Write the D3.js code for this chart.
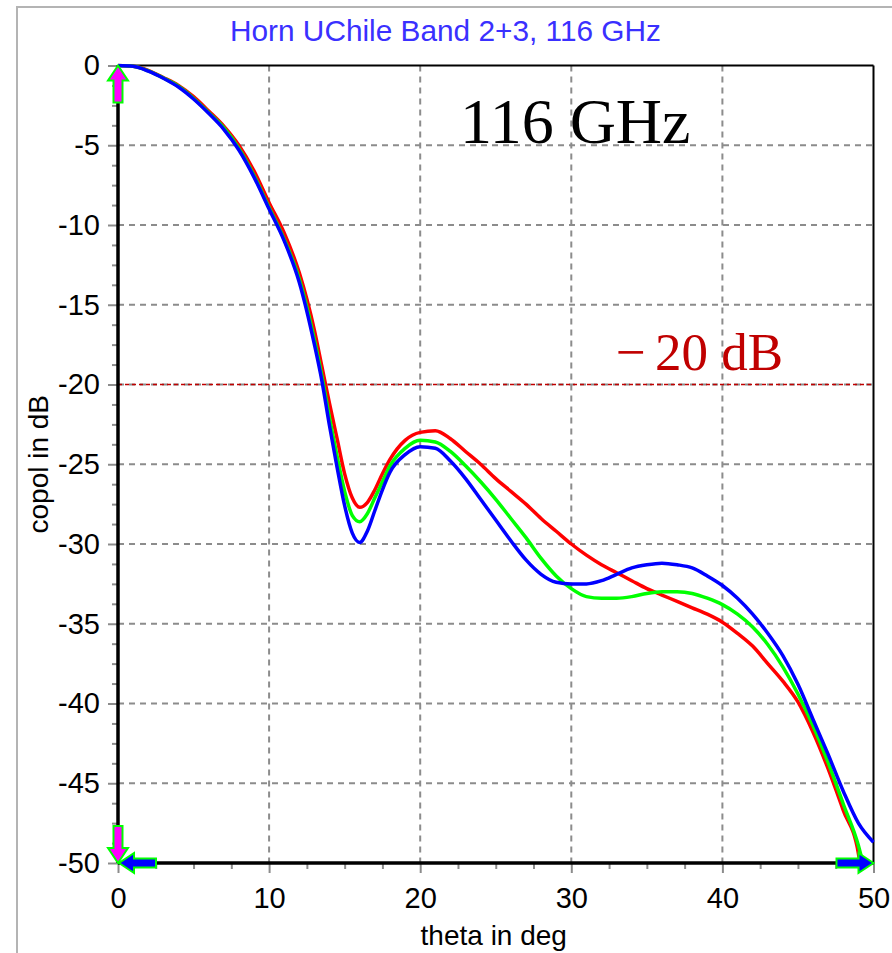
<!DOCTYPE html>
<html>
<head>
<meta charset="utf-8">
<script src="https://cdn.jsdelivr.net/npm/d3@7"></script>
<style>
  body { margin: 0; background: #fff; }
  svg text { font-family: "Liberation Sans", Arial, sans-serif; }
</style>
</head>
<body>
<div id="chart"></div>
<script>
// ── Data ──────────────────────────────────────────────────────────
const thetaRed   = [0,1,2,3,4,5,6,7,8,9,10,11,12,13,13.5,14,14.5,15,15.5,16,16.5,17,17.5,18,19,20,21,22,23,24,25,26,27,28,29,30,31,32,33,34,35,36,37,38,39,40,41,42,43,44,45,46,47,48,49,49.1];
const copolRed   = [0,-0.05,-0.3,-0.75,-1.25,-1.95,-2.85,-3.8,-5.0,-6.6,-8.6,-10.5,-13.0,-16.6,-18.9,-21.2,-23.4,-25.6,-27.1,-27.7,-27.4,-26.6,-25.6,-24.7,-23.5,-23.0,-22.9,-23.4,-24.2,-25.0,-25.9,-26.7,-27.5,-28.4,-29.2,-30.0,-30.7,-31.3,-31.8,-32.3,-32.8,-33.2,-33.6,-34.0,-34.4,-34.9,-35.6,-36.4,-37.5,-38.6,-39.9,-41.8,-44.1,-46.7,-49.4,-50];

const thetaGreen = [0,1,2,3,4,5,6,7,8,9,10,11,12,13,13.5,14,14.5,15,15.5,16,16.5,17,17.5,18,19,20,21,22,23,24,25,26,27,28,29,30,31,32,33,34,35,36,37,38,39,40,41,42,43,44,45,46,47,48,49,49.3];
const copolGreen = [0,-0.05,-0.33,-0.78,-1.3,-2.05,-2.95,-3.9,-5.2,-6.9,-8.9,-10.9,-13.4,-17.2,-19.5,-22.1,-24.5,-26.7,-28.2,-28.6,-28.1,-27.1,-26.1,-25.1,-24.0,-23.5,-23.6,-24.2,-25.1,-26.1,-27.2,-28.4,-29.6,-30.9,-32.0,-32.8,-33.3,-33.4,-33.4,-33.3,-33.1,-33.0,-33.0,-33.1,-33.4,-33.8,-34.4,-35.2,-36.3,-37.7,-39.4,-41.4,-43.7,-46.3,-48.9,-50];

const thetaBlue  = [0,1,2,3,4,5,6,7,8,9,10,11,12,13,13.5,14,14.5,15,15.5,16,16.5,17,17.5,18,19,20,21,22,23,24,25,26,27,28,29,30,31,32,33,34,35,36,37,38,39,40,41,42,43,44,45,46,47,48,49,50];
const copolBlue  = [0,-0.05,-0.35,-0.8,-1.35,-2.1,-3.0,-4.0,-5.3,-7.0,-9.0,-11.0,-13.6,-17.5,-19.8,-22.6,-25.2,-27.6,-29.3,-29.9,-29.2,-27.9,-26.6,-25.5,-24.4,-23.9,-24.0,-24.8,-25.9,-27.2,-28.5,-29.8,-31.0,-31.9,-32.4,-32.5,-32.5,-32.3,-31.9,-31.5,-31.3,-31.2,-31.3,-31.5,-32.0,-32.6,-33.4,-34.4,-35.6,-37.0,-38.8,-41.0,-43.2,-45.5,-47.5,-48.7];

const xTicks = [0, 10, 20, 30, 40, 50];
const yTicks = [0, -5, -10, -15, -20, -25, -30, -35, -40, -45, -50];
const refLevel = -20;

const series = [
  { name: "red",   theta: thetaRed,   copol: copolRed,   color: "#ff0000" },
  { name: "green", theta: thetaGreen, copol: copolGreen, color: "#00ff00" },
  { name: "blue",  theta: thetaBlue,  copol: copolBlue,  color: "#0000ff" }
];

// ── Layout ────────────────────────────────────────────────────────
const W = 892, H = 953;
const pLeft = 118, pRight = 873.5, pTop = 65.5, pBottom = 863;

const svg = d3.select("#chart").append("svg")
  .attr("width", W).attr("height", H);

// outer frame of the window
svg.append("rect")
  .attr("x", 17).attr("y", 7).attr("width", 900).attr("height", 1000)
  .attr("fill", "#fff").attr("stroke", "#b4b4b4").attr("stroke-width", 2);

const x = d3.scaleLinear().domain([0, 50]).range([pLeft, pRight]);
const y = d3.scaleLinear().domain([0, -50]).range([pTop, pBottom]);

// title
svg.append("text")
  .attr("x", 230).attr("y", 41)
  .attr("fill", "#3a30ff")
  .style("font-size", "29.8px")
  .text("Horn UChile Band 2+3, 116 GHz");

// ── Grid ──────────────────────────────────────────────────────────
const grid = svg.append("g").attr("stroke", "#8c8c8c")
  .attr("stroke-width", 2).attr("stroke-dasharray", "6,5");
grid.selectAll(".gx").data(xTicks.slice(1, -1)).join("line")
  .attr("x1", d => x(d)).attr("x2", d => x(d))
  .attr("y1", pTop).attr("y2", pBottom);
grid.selectAll(".gy").data(yTicks.slice(1, -1)).join("line")
  .attr("x1", pLeft).attr("x2", pRight)
  .attr("y1", d => y(d)).attr("y2", d => y(d));

// ── Axes: ticks and labels ────────────────────────────────────────
const minorX = d3.range(0, 50.01, 2.5).filter(d => d % 10 !== 0);
const minorY = d3.range(0, -50.01, -1.25).filter(d => d % 5 !== 0);

function styleAxis(g) {
  g.select(".domain").remove();
  g.selectAll(".tick line").attr("stroke", "#8c8c8c").attr("stroke-width", 2);
  g.selectAll(".tick text").attr("fill", "#000")
    .style("font-size", "29px")
    .style("font-family", "'Liberation Sans', Arial, sans-serif");
}

svg.append("g").attr("transform", `translate(0,${pBottom})`)
  .call(d3.axisBottom(x).tickValues(minorX).tickSize(6).tickFormat(""))
  .call(styleAxis);
svg.append("g").attr("transform", `translate(0,${pBottom})`)
  .call(d3.axisBottom(x).tickValues(xTicks).tickSize(10).tickPadding(14).tickFormat(d => String(d)))
  .call(styleAxis);

svg.append("g").attr("transform", `translate(${pLeft},0)`)
  .call(d3.axisLeft(y).tickValues(minorY).tickSize(6).tickFormat(""))
  .call(styleAxis);
svg.append("g").attr("transform", `translate(${pLeft},0)`)
  .call(d3.axisLeft(y).tickValues(yTicks).tickSize(10).tickPadding(8).tickFormat(d => String(d)))
  .call(styleAxis);

// axis titles
svg.append("text")
  .attr("x", x(25) - 2).attr("y", 945)
  .attr("text-anchor", "middle")
  .style("font-size", "28px")
  .text("theta in deg");
svg.append("text")
  .attr("transform", `translate(48,${y(-25)}) rotate(-90)`)
  .attr("text-anchor", "middle")
  .style("font-size", "28px")
  .text("copol in dB");

// ── Plot frame ────────────────────────────────────────────────────
svg.append("line").attr("x1", pLeft).attr("x2", pRight).attr("y1", pTop).attr("y2", pTop)
  .attr("stroke", "#000").attr("stroke-width", 2);
svg.append("line").attr("x1", pRight).attr("x2", pRight).attr("y1", pTop).attr("y2", pBottom)
  .attr("stroke", "#000").attr("stroke-width", 2);

// -20 dB reference line
svg.append("line")
  .attr("x1", pLeft).attr("x2", pRight)
  .attr("y1", y(refLevel)).attr("y2", y(refLevel))
  .attr("stroke", "#c00000").attr("stroke-width", 1.3)
  .attr("stroke-dasharray", "4,3");

// ── Curves ────────────────────────────────────────────────────────
svg.append("clipPath").attr("id", "plotClip")
  .append("rect").attr("x", pLeft).attr("y", pTop - 2)
  .attr("width", pRight - pLeft + 1).attr("height", pBottom - pTop + 3);

const line = d3.line()
  .x(d => x(d[0])).y(d => y(d[1]))
  .curve(d3.curveMonotoneX);

svg.append("g").attr("clip-path", "url(#plotClip)")
  .selectAll("path").data(series).join("path")
    .attr("d", s => line(s.theta.map((t, i) => [t, s.copol[i]])))
    .attr("fill", "none")
    .attr("stroke", s => s.color)
    .attr("stroke-width", 3.5)
    .attr("stroke-linejoin", "round");

// thick axis lines
svg.append("line").attr("x1", pLeft).attr("x2", pLeft).attr("y1", pTop).attr("y2", pBottom)
  .attr("stroke", "#000").attr("stroke-width", 3.5);
svg.append("line").attr("x1", pLeft).attr("x2", pRight).attr("y1", pBottom).attr("y2", pBottom)
  .attr("stroke", "#000").attr("stroke-width", 3.5);

// ── Range markers (arrows at axis ends) ───────────────────────────
function arrow(tipX, tipY, angle, fill) {
  // arrow pointing along +x before rotation; tip at origin
  const p = "M0,0 L-15,-10 L-15,-4.5 L-37,-4.5 L-37,4.5 L-15,4.5 L-15,10 Z";
  svg.append("path")
    .attr("d", p)
    .attr("transform", `translate(${tipX},${tipY}) rotate(${angle})`)
    .attr("fill", fill).attr("stroke", "#00ff00").attr("stroke-width", 2)
    .attr("stroke-linejoin", "miter");
}
arrow(x(0), y(0), -90, "#ff00ff");
arrow(x(0), y(-50), 90, "#ff00ff");
arrow(x(0) + 1, y(-50), 180, "#0000ff");
arrow(x(50), y(-50), 0, "#0000ff");

// ── Annotations ───────────────────────────────────────────────────
svg.append("text")
  .attr("x", 460).attr("y", 143)
  .style("font-family", "'Liberation Serif', 'Times New Roman', serif")
  .style("font-size", "64px")
  .attr("fill", "#000")
  .text("116 GHz");

const refLabel = svg.append("text")
  .attr("x", 616).attr("y", 370)
  .style("font-family", "'Liberation Serif', 'Times New Roman', serif")
  .style("font-size", "53px")
  .attr("fill", "#c00000");
refLabel.append("tspan").text("\u2212");
refLabel.append("tspan").attr("dx", 9).text("20 dB");
</script>
</body>
</html>
